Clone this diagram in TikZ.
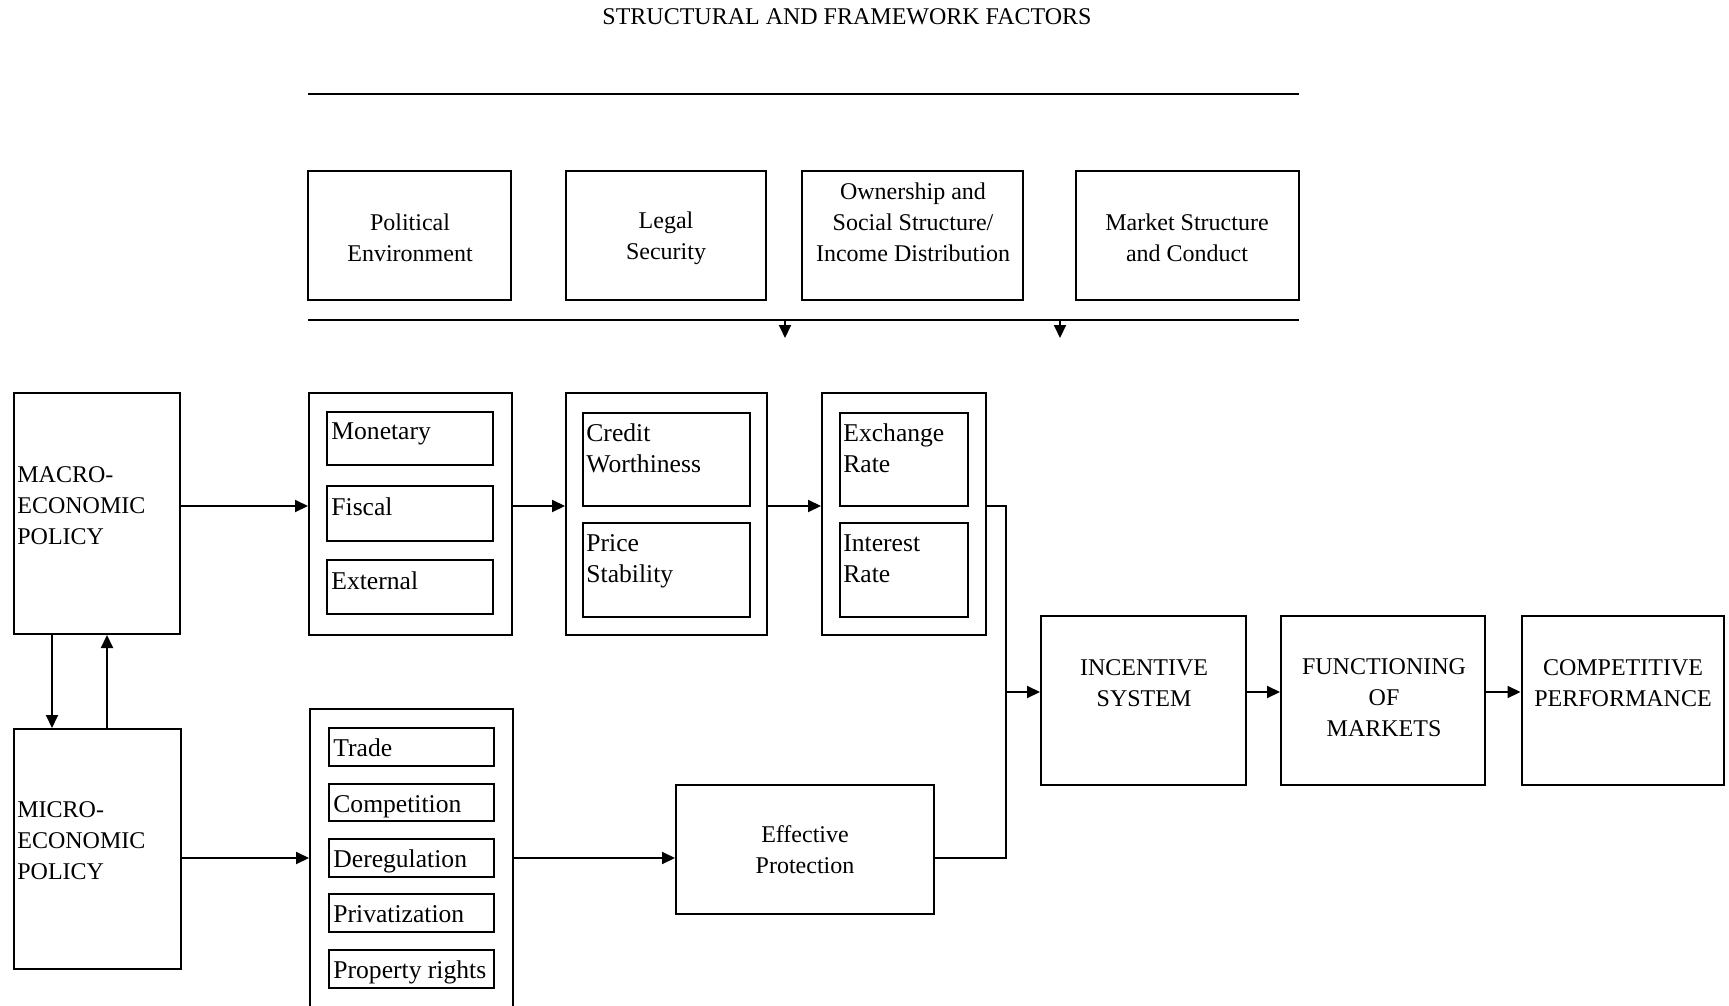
\documentclass[tikz,border=0pt]{standalone}
\usepackage{fontspec}
\setmainfont{Liberation Serif}
\usetikzlibrary{arrows.meta}

\tikzset{
  box/.style={draw, line width=1pt, inner sep=0pt},
  wh/.style 2 args={minimum width=#1*0.5pt, minimum height=#2*0.5pt},
  txt/.style={inner sep=0pt, align=center, font=\fontsize{12}{15.5}\selectfont},
  ltxt/.style={inner sep=0pt, align=left, font=\fontsize{12}{15.5}\selectfont},
  itxt/.style={inner sep=0pt, align=left, font=\fontsize{12.8}{15.5}\selectfont},
  arr/.style={line width=1pt, -{Triangle[length=6.5pt,width=6pt]}},
  rule/.style={line width=1.3pt},
}

\begin{document}
\begin{tikzpicture}[x=0.5pt,y=0.5pt,yscale=-1,xscale=1]
\useasboundingbox (0,0) rectangle (1729,1006);

% Text Node
\node[txt] (title) at (847,17) {STRUCTURAL AND FRAMEWORK FACTORS};

%Straight Lines
\coordinate (ra) at (308,94);
\coordinate (rb) at (1299,94);
\draw[rule] (ra) -- (rb);
%Straight Lines
\coordinate (rc) at (308,320);
\coordinate (rd) at (1299,320);
\draw[rule] (rc) -- (rd);
\coordinate (dn1) at (785,338);
\coordinate (dn2) at (1060,338);
\draw[arr] (rc -| dn1) -- (dn1);
\draw[arr] (rc -| dn2) -- (dn2);

%Shape: Rectangle
\node[box, wh={203}{129}] (pol) at (409.5,235.5) {};
\node[box, wh={200}{129}] (leg) at (666,235.5) {};
\node[box, wh={221}{129}] (own) at (912.5,235.5) {};
\node[box, wh={223}{129}] (mkt) at (1187.5,235.5) {};
% Text Node
\node[txt] (pol-t) at (410,238) {Political\\Environment};
\node[txt] (leg-t) at (666,238) {Legal\\Security};
\node[txt] (own-t) at (913,222) {Ownership and\\Social Structure/\\Income Distribution};
\node[txt] (mkt-t) at (1187,238) {Market Structure\\and Conduct};

%Shape: Rectangle
\node[box, wh={166}{241}] (mac) at (97,513.5) {};
\node[box, wh={167}{240}] (mic) at (97.5,849) {};
% Text Node
\node[ltxt, anchor=west] (mac-t) at (17,506) {MACRO-\\ECONOMIC\\POLICY};
\node[ltxt, anchor=west] (mic-t) at (17,841) {MICRO-\\ECONOMIC\\POLICY};

%Shape: Rectangle
\node[box, wh={203}{242}] (gp1) at (410.5,514) {};
\node[box, wh={166}{53}] (mon) at (410,438.5) {};
\node[box, wh={166}{55}] (fis) at (410,513.5) {};
\node[box, wh={166}{54}] (ext) at (410,587) {};
% Text Node
\node[itxt, anchor=north west] (mon-t) at ([shift={(2.5pt,5.5pt)}]mon.north west) {Monetary};
\node[itxt, anchor=north west] (fis-t) at ([shift={(2.5pt,6pt)}]fis.north west) {Fiscal};
\node[itxt, anchor=north west] (ext-t) at ([shift={(2.5pt,6pt)}]ext.north west) {External};

%Shape: Rectangle
\node[box, wh={201}{242}] (gp2) at (666.5,514) {};
\node[box, wh={167}{93}] (crd) at (666.5,459.5) {};
\node[box, wh={167}{94}] (prc) at (666.5,570) {};
% Text Node
\node[itxt, anchor=north west] (crd-t) at ([shift={(2pt,5.5pt)}]crd.north west) {Credit\\Worthiness};
\node[itxt, anchor=north west] (prc-t) at ([shift={(2pt,6pt)}]prc.north west) {Price\\Stability};

%Shape: Rectangle
\node[box, wh={164}{242}] (gp3) at (904,514) {};
\node[box, wh={128}{93}] (exr) at (904,459.5) {};
\node[box, wh={128}{94}] (inr) at (904,570) {};
% Text Node
\node[itxt, anchor=north west] (exr-t) at ([shift={(2pt,5.5pt)}]exr.north west) {Exchange\\Rate};
\node[itxt, anchor=north west] (inr-t) at ([shift={(2pt,6pt)}]inr.north west) {Interest\\Rate};

%Shape: Rectangle
\node[box, wh={203}{299}] (gp4) at (411.5,858.5) {};
\node[box, wh={165}{38}] (trd) at (411.5,747) {};
\node[box, wh={165}{37}] (cpt) at (411.5,802.5) {};
\node[box, wh={165}{38}] (drg) at (411.5,858) {};
\node[box, wh={165}{38}] (prv) at (411.5,913) {};
\node[box, wh={165}{38}] (prp) at (411.5,969) {};
% Text Node
\node[itxt, anchor=base west] (trd-t) at ([shift={(2.5pt,4.8pt)}]trd.west) {Trade};
\node[itxt, anchor=base west] (cpt-t) at ([shift={(2.5pt,4.8pt)}]cpt.west) {Competition};
\node[itxt, anchor=base west] (drg-t) at ([shift={(2.5pt,4.8pt)}]drg.west) {Deregulation};
\node[itxt, anchor=base west] (prv-t) at ([shift={(2.5pt,4.8pt)}]prv.west) {Privatization};
\node[itxt, anchor=base west] (prp-t) at ([shift={(2.5pt,4.8pt)}]prp.west) {Property rights};

%Shape: Rectangle
\node[box, wh={258}{129}] (eff) at (805,849.5) {};
\node[box, wh={205}{169}] (inc) at (1143.5,700) {};
\node[box, wh={204}{169}] (fun) at (1383,700) {};
\node[box, wh={202}{169}] (cmp) at (1622.5,700) {};
% Text Node
\node[txt] (eff-t) at (805,850) {Effective\\Protection};
\node[txt] (inc-t) at (1144,683) {INCENTIVE\\SYSTEM};
\node[txt] (fun-t) at (1384,698) {FUNCTIONING\\OF\\MARKETS};
\node[txt] (cmp-t) at (1623,683) {COMPETITIVE\\PERFORMANCE};

%Connectors
\coordinate (row1) at (0,506);
\coordinate (row2) at (0,858);
\coordinate (jn) at (1006,692);
\coordinate (col1) at (52,0);
\coordinate (col2) at (107,0);
\draw[arr] (mac.east |- row1) -- (gp1.west |- row1);
\draw[arr] (gp1.east |- row1) -- (gp2.west |- row1);
\draw[arr] (gp2.east |- row1) -- (gp3.west |- row1);
\draw[line width=1pt] (gp3.east |- row1) -| (jn) |- (eff.east |- row2);
\draw[arr] (jn) -- (inc.west |- jn);
\draw[arr] (inc.east |- jn) -- (fun.west |- jn);
\draw[arr] (fun.east |- jn) -- (cmp.west |- jn);
\draw[arr] (mac.south -| col1) -- (mic.north -| col1);
\draw[arr] (mic.north -| col2) -- (mac.south -| col2);
\draw[arr] (mic.east |- row2) -- (gp4.west |- row2);
\draw[arr] (gp4.east |- row2) -- (eff.west |- row2);

\end{tikzpicture}
\end{document}
